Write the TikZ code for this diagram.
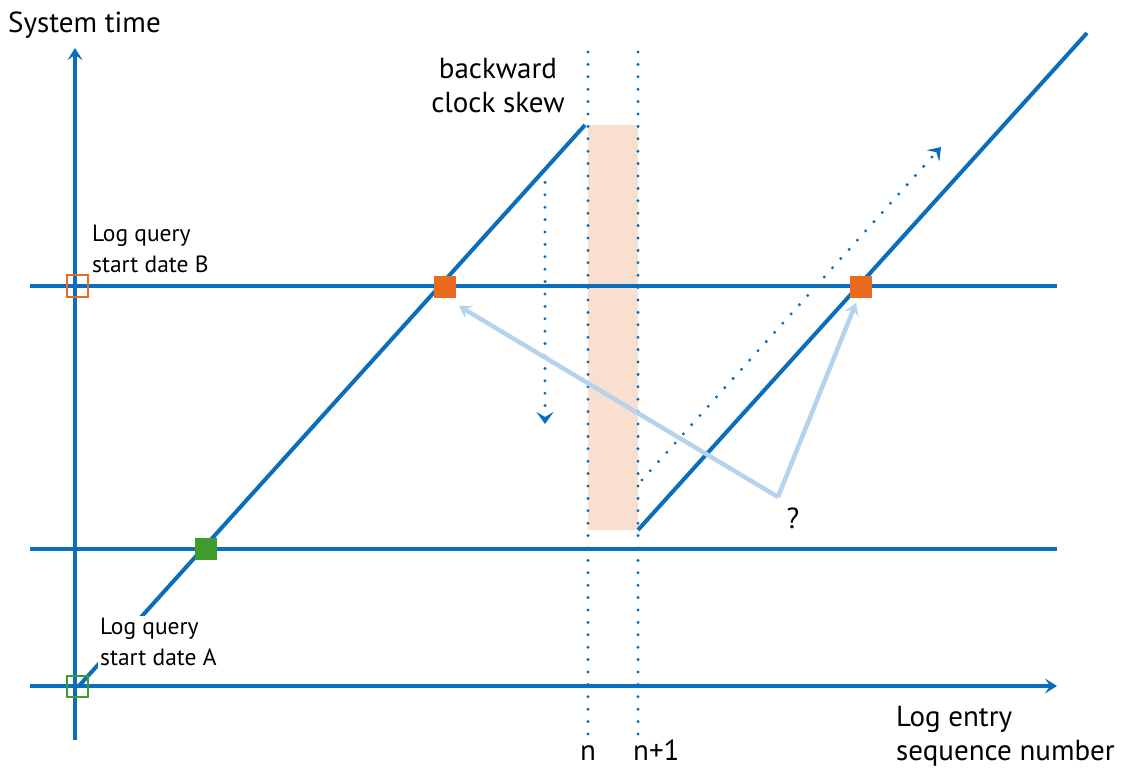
\documentclass[tikz,border=0pt]{standalone}
\usepackage{fontspec}
\setmainfont{PT Sans}
\usetikzlibrary{arrows.meta}
\definecolor{lineblue}{HTML}{0A6EBD}
\definecolor{paleblue}{HTML}{B5D3EC}
\definecolor{sqorange}{HTML}{EA6A1F}
\definecolor{sqgreen}{HTML}{3E9B2C}
\definecolor{peach}{HTML}{F9DFD0}
\tikzset{
  mainline/.style={draw=lineblue, line width=4},
  axisarrow/.style={mainline, -{Stealth[length=12,width=15,inset=5]}},
  dotline/.style={draw=lineblue, line width=3.3, line cap=round, dash pattern=on 0pt off 12.4pt},
  dotarrow/.style={dotline, -{Stealth[length=12,width=17,inset=5,line cap=butt]}},
  hintarrow/.style={draw=paleblue, line width=4.5, -{Stealth[length=12,width=15,inset=5]}},
  sqfull/.style={draw=none, minimum size=22, inner sep=0, outer sep=0},
  sqopen/.style={line width=2, minimum size=21, inner sep=0, fill=none},
  lbl/.style={inner sep=0, font=\fontsize{29}{34}\selectfont, align=left},
  slbl/.style={inner sep=0, font=\fontsize{23.5}{31}\selectfont, align=left}
}
\begin{document}
\begin{tikzpicture}[x=1pt,y=-1pt]
\useasboundingbox (0,0) rectangle (1125,770);
% shaded skew band
\fill[peach] (588,125) rectangle (638,530);
% dotted verticals
\coordinate (nTop) at (588,52); \coordinate (nBot) at (588,740);
\coordinate (mTop) at (638,52); \coordinate (mBot) at (638,740);
\draw[dotline] (nTop) -- (nBot);
\draw[dotline] (mTop) -- (mBot);
% horizontal lines
\coordinate (hBl) at (30,286); \coordinate (hBr) at (1057,286);
\coordinate (hAl) at (30,549); \coordinate (hAr) at (1057,549);
\draw[mainline] (hBl) -- (hBr);
\draw[mainline] (hAl) -- (hAr);
% axes
\coordinate (xL) at (30,686); \coordinate (xR) at (1057,686);
\coordinate (yB) at (75,740); \coordinate (yT) at (75,48);
\draw[axisarrow] (xL) -- (xR);
\draw[axisarrow] (yB) -- (yT);
% diagonals
\coordinate (d1a) at (78,687); \coordinate (d1b) at (585,125);
\coordinate (d2a) at (638,530); \coordinate (d2b) at (1087,33);
\draw[mainline] (d1a) -- (d1b);
\draw[mainline] (d2a) -- (d2b);
% dotted arrows
\coordinate (da1) at (545,170); \coordinate (da2) at (545,424);
\draw[dotarrow] (da1) -- (da2);
\coordinate (db1) at (642,480); \coordinate (db2) at (941,147);
\draw[dotarrow] (db1) -- (db2);
% squares
\node[sqfull, fill=sqorange] (sqB1) at (445,287) {};
\node[sqfull, fill=sqorange] (sqB2) at (861,287) {};
\node[sqfull, fill=sqgreen] (sqA) at (206,549) {};
\node[sqopen, draw=sqorange] (oB) at (77,286) {};
\node[sqopen, draw=sqgreen] (oA) at (77,686) {};
% hint arrows
\coordinate (qv) at (778,497);
\draw[hintarrow] (qv) -- (459,306);
\draw[hintarrow] (qv) -- (856,303);
\node[lbl, anchor=base] (qm) at (793,528) {?};
% labels
\node[lbl, anchor=base west] (st) at (8,33) {System time};
\node[lbl, align=center, anchor=north] (bcs) at (498,58) {backward\\clock skew};
\node[slbl, anchor=north west] (lqB) at (92,225) {Log query\\start date B};
\node[slbl, anchor=north west, fill=white, inner sep=2] (lqA) at (98,616) {Log query\\start date A};
\node[lbl, anchor=north west] (le) at (896,706) {Log entry\\sequence number};
\node[lbl, anchor=base] (nn) at (588,760) {n};
\node[lbl, anchor=base west] (nn1) at (633,760) {n+1};
\end{tikzpicture}
\end{document}
